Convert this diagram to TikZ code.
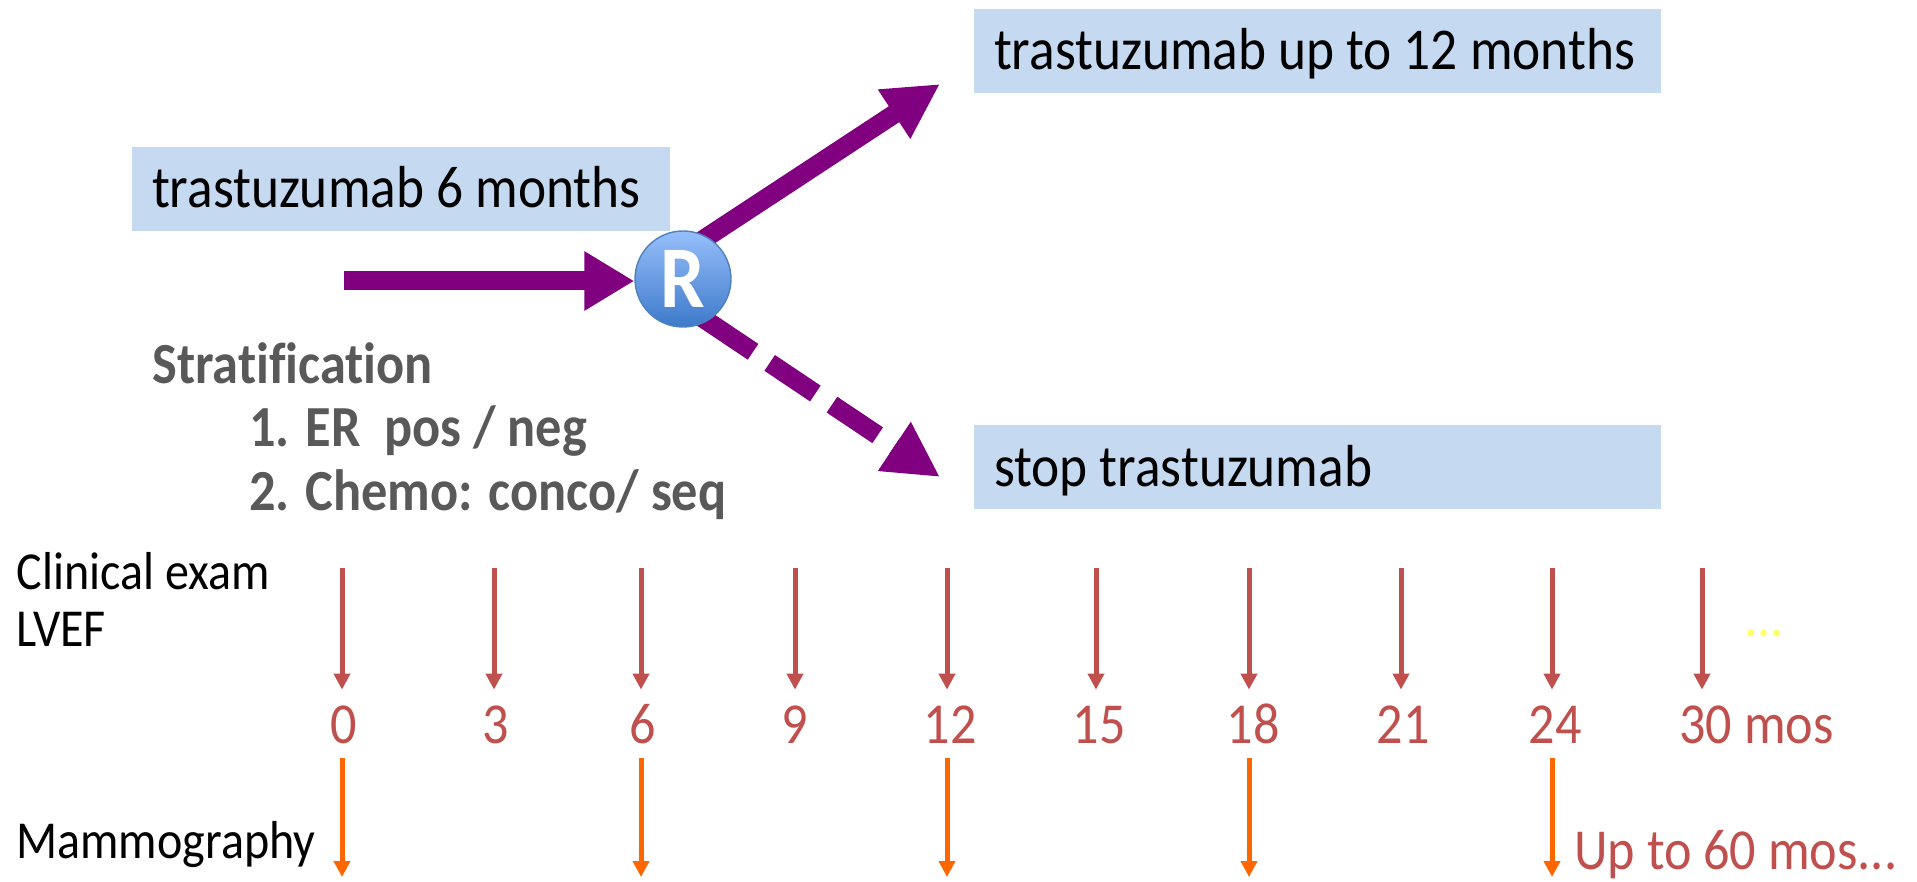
\documentclass[tikz,border=0pt]{standalone}
\usepackage{fontspec}
\setmainfont[FakeStretch=0.9,Ligatures=NoCommon]{Carlito}
\usetikzlibrary{arrows.meta,backgrounds}
\definecolor{boxblue}{HTML}{C5D9F1}
\definecolor{armpurple}{HTML}{800080}
\definecolor{visitred}{HTML}{C0504D}
\definecolor{mamorange}{HTML}{FF6600}
\definecolor{stratgray}{HTML}{595959}
\definecolor{ballrim}{HTML}{4F81BD}
\definecolor{balltop}{HTML}{97BEFA}
\definecolor{ballbottom}{HTML}{3D7ACB}
\definecolor{morey}{HTML}{FFFF66}
\tikzstyle{armbox}=[fill=boxblue,minimum height=42pt,inner xsep=10pt,inner ysep=0pt,
                font=\fontsize{29.65}{32}\selectfont,text height=21pt,text depth=2pt]
\tikzstyle{arm}=[draw=armpurple,line width=9.5pt,-{Triangle[length=27.5pt,width=27.5pt]}]
\tikzstyle{side}=[anchor=base west,inner sep=0pt,font=\fontsize{26.7}{30}\selectfont]
\tikzstyle{strat}=[anchor=base west,inner sep=0pt,text=stratgray,font=\fontsize{29.1}{32}\selectfont\bfseries]
\tikzstyle{mos}=[inner sep=0pt,text=visitred,text height=26.5pt,text depth=7.5pt,
                font=\fontsize{29}{32}\selectfont]
\tikzstyle{visit}=[draw=visitred,line width=2.5pt,-{Triangle[length=8pt,width=8pt]}]
\tikzstyle{mam}=[draw=mamorange,line width=2.5pt,-{Triangle[length=8pt,width=8pt]}]
\begin{document}
\begin{tikzpicture}[x=0.5pt,y=-0.5pt]
\useasboundingbox (0,0) rectangle (1917,882);

\node[armbox] (six) at (401,189) {\makebox[249pt][l]{trastuzumab 6 months}};
\node[armbox] (long) at (1317.5,51) {\makebox[323.5pt][l]{trastuzumab up to 12 months}};
\node[armbox] (stop) at (1317.5,467) {\makebox[323.5pt][l]{stop trastuzumab}};

\node[circle,minimum size=48pt,inner sep=0pt,draw=ballrim,line width=0.7pt,
      top color=balltop,bottom color=ballbottom,text=white,
      font=\fontsize{44}{44}\selectfont\bfseries] (R) at (683,279) {R};

\coordinate (start) at (344,281);
\coordinate (longtip) at (940,84);
\coordinate (stoptip) at (940,477);
\begin{pgfonlayer}{background}
\draw[arm,-{Triangle[length=25pt,width=28pt]}] (start) -- (start -| R.west);
\draw[arm,shorten <=-8pt] (R.60) -- (longtip);
\draw[arm,shorten <=-8pt,dash pattern=on 35.5pt off 10pt on 27.5pt off 10pt on 27.5pt off 10pt] (R.-60) -- (stoptip);
\end{pgfonlayer}

\node[strat] (strathead) at (152,383) {Stratification};
\node[strat] (stratone) at (249,446) {1. ER\ \ pos / neg};
\node[strat] (strattwo) at (249,510) {2. Chemo: conco/ seq};

\node[side] (clinical) at (16,589) {Clinical exam};
\node[side] (lvef) at (16,646) {LVEF};
\node[side] (mammo) at (16,858) {Mammography};

% visits: arrow x, label x, label
\foreach \x/\lx/\lab in {342/344/0,494/496/3,641/643/6,795/795/9,947/950/12,1096/1099/15,1249/1253/18,1401/1403/21,1552/1555/24}
{
  \coordinate (top\lab) at (\x,568);
  \node[mos,anchor=base] (m\lab) at (\lx,743) {\lab};
  \draw[visit] (top\lab) -- (top\lab |- m\lab.north);
}
\coordinate (top30) at (1702,568);
\node[mos,anchor=base west] (m30) at (1679,743) {30 mos};
\draw[visit] (top30) -- (top30 |- m30.north);

\foreach \lab in {0,6,12,18,24}
{
  \coordinate (end\lab) at (top\lab |- 0,877);
  \draw[mam] (top\lab |- m\lab.south) -- (end\lab);
}

\node[anchor=base,inner sep=0pt,text=morey,font=\fontsize{29}{32}\selectfont] (more) at (1764,636) {...};
\node[anchor=base west,inner sep=0pt,text=visitred,font=\fontsize{29}{32}\selectfont] (upto) at (1574,869) {Up to 60 mos...};
\end{tikzpicture}
\end{document}
